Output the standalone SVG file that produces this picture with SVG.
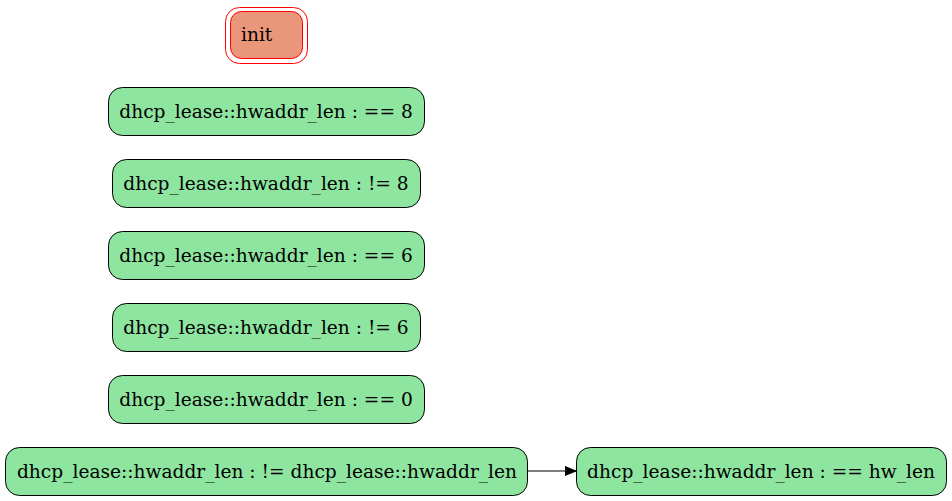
<svg xmlns="http://www.w3.org/2000/svg" width="952" height="501" viewBox="0 0 952 501">
<style>
.g rect{fill:#8ee5a0;stroke:#000;stroke-width:1}
text{font-family:"DejaVu Serif",serif;font-size:18.6px;fill:#000;text-anchor:middle}
</style>
<defs>
<marker id="ah" markerWidth="12" markerHeight="10" refX="11" refY="5" orient="auto" markerUnits="userSpaceOnUse">
<path d="M0,0.5 L11,5 L0,9.5 Z" fill="#000" stroke="#000"/>
</marker>
</defs>
<rect width="952" height="501" fill="#fff"/>
<g id="init">
<rect x="225.5" y="7.5" width="82" height="56" rx="14" fill="none" stroke="#ff0000"/>
<rect x="230.5" y="11.5" width="72" height="47" rx="11" fill="#e9967a" stroke="#ff0000"/>
<text x="241" y="40.5" style="text-anchor:start">init</text>
</g>
<g id="n1" class="g">
<rect x="108.5" y="87.5" width="316" height="48" rx="14"/>
<text x="266" y="117.5">dhcp_lease::hwaddr_len : == 8</text>
</g>
<g id="n2" class="g">
<rect x="112.5" y="159.5" width="308" height="48" rx="14"/>
<text x="266" y="189.5">dhcp_lease::hwaddr_len : != 8</text>
</g>
<g id="n3" class="g">
<rect x="108.5" y="231.5" width="316" height="48" rx="14"/>
<text x="266" y="261.5">dhcp_lease::hwaddr_len : == 6</text>
</g>
<g id="n4" class="g">
<rect x="112.5" y="303.5" width="308" height="48" rx="14"/>
<text x="266" y="333.5">dhcp_lease::hwaddr_len : != 6</text>
</g>
<g id="n5" class="g">
<rect x="108.5" y="375.5" width="316" height="48" rx="14"/>
<text x="266" y="405.5">dhcp_lease::hwaddr_len : == 0</text>
</g>
<g id="n6" class="g">
<rect x="5.5" y="447.5" width="522" height="48" rx="14"/>
<text x="267" y="477.5">dhcp_lease::hwaddr_len : != dhcp_lease::hwaddr_len</text>
</g>
<g id="n7" class="g">
<rect x="576.5" y="447.5" width="370" height="48" rx="14"/>
<text x="761" y="477.5">dhcp_lease::hwaddr_len : == hw_len</text>
</g>
<g id="edges">
<line x1="528" y1="471" x2="576" y2="471" stroke="#000" marker-end="url(#ah)"/>
</g>
</svg>
